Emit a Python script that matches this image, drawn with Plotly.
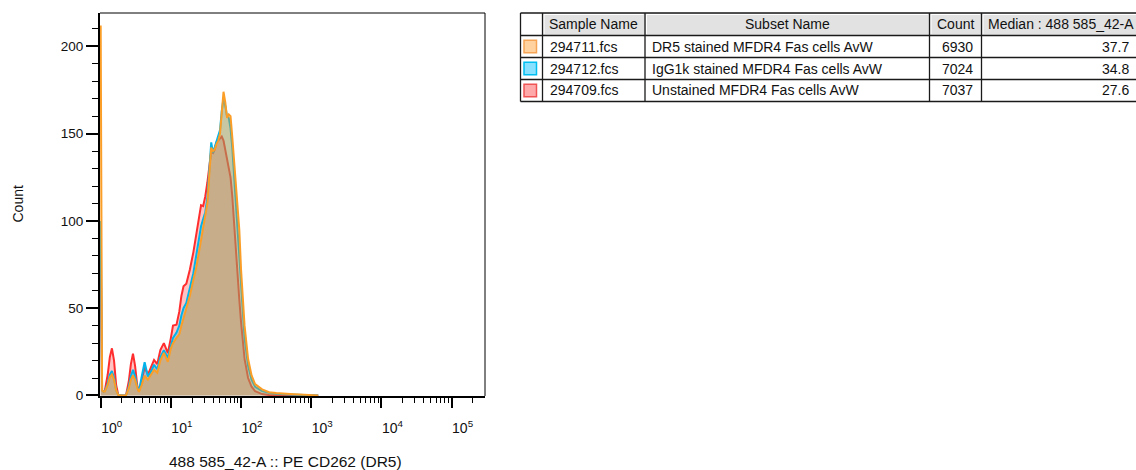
import plotly.graph_objects as go

# ---------------- data ----------------
channel_log10 = [0.0, 0.008, 0.02, 0.04, 0.06, 0.1, 0.13, 0.16, 0.19, 0.22, 0.25, 0.3, 0.36, 0.4, 0.43,
                 0.46, 0.49, 0.52, 0.545, 0.585, 0.626, 0.673, 0.72, 0.76, 0.806, 0.85, 0.9, 0.957, 1.0,
                 1.03, 1.08, 1.12, 1.15, 1.18, 1.22, 1.27, 1.32, 1.36, 1.4, 1.43, 1.46, 1.49, 1.52, 1.55,
                 1.575, 1.6, 1.625, 1.65, 1.675, 1.7, 1.725, 1.75, 1.775, 1.8, 1.825, 1.85, 1.875, 1.9,
                 1.925, 1.95, 1.975, 2.0, 2.05, 2.1, 2.15, 2.2, 2.3, 2.4, 2.5, 2.7, 2.9, 3.0, 3.1]

unstained_counts = [80, 20, 3, 2.3, 3, 12, 22, 27, 20, 6, 0.5, 0, 0, 8, 18,
                    24, 17, 6, 2.3, 9, 16, 12, 17, 20.4, 18, 26, 30, 24.3, 33,
                    40, 40.5, 48, 57, 62.5, 64, 72, 82, 92, 104, 109, 108.5, 114, 122, 133,
                    140, 139, 141, 145, 146, 147, 148.3, 146, 141, 136, 131, 125, 114, 98,
                    84, 68, 55, 42, 21, 10, 5, 2.5, 0.8, 0.3, 0.1, 0, 0, 0, 0]

igg1k_counts = [100, 25, 3, 2.3, 2.5, 7, 12, 14, 10, 3, 0.5, 0, 0, 5, 11,
                14.7, 11, 5, 2.5, 11, 19, 10.9, 14, 17.6, 15, 22, 26, 21.6, 29,
                33, 36, 40, 46, 50, 53, 61, 70, 80, 90, 97, 101, 105, 113, 130,
                145, 139, 142, 146, 148, 152, 163, 170, 166, 160, 159, 153, 142, 127,
                112, 96, 82, 64, 33, 17, 9, 5, 2.5, 1.5, 1, 0.6, 0.3, 0.1, 0]

dr5_counts = [212, 40, 3, 2.3, 2.3, 6, 10.5, 12, 9, 3, 0.3, 0, 0, 4, 9,
              11.5, 9, 4.5, 2, 6, 11.3, 9, 12, 14.7, 13, 20, 24.4, 19.3, 27,
              30, 33, 35, 40, 44, 49, 57, 66, 73, 82, 88, 96, 103, 110, 128,
              142, 140, 141, 144, 146, 150, 165, 174, 168, 159, 161, 160, 148, 134,
              125, 110, 95, 72, 40, 21, 11.5, 6.5, 3.5, 1.9, 1.4, 0.9, 0.5, 0.2, 0]

sample_names = ["294711.fcs", "294712.fcs", "294709.fcs"]
subset_names = ["DR5 stained MFDR4 Fas cells AvW",
                "IgG1k stained MFDR4 Fas cells AvW",
                "Unstained MFDR4 Fas cells AvW"]
event_counts = ["6930", "7024", "7037"]
medians = ["37.7", "34.8", "27.6"]
table_headers = ["Sample Name", "Subset Name", "Count", "Median : 488 585_42-A"]

x_tick_vals = [1, 10, 100, 1000, 10000, 100000]
x_tick_text = ["10<sup>0</sup>", "10<sup>1</sup>", "10<sup>2</sup>",
               "10<sup>3</sup>", "10<sup>4</sup>", "10<sup>5</sup>"]
y_tick_vals = [0, 50, 100, 150, 200]

# ---------------- styles ----------------
FONT = "Liberation Sans, Arial, sans-serif"
series = [  # drawn bottom -> top
    (unstained_counts, "rgb(255,45,45)", "rgba(255,40,40,0.28)"),
    (igg1k_counts, "rgb(0,180,235)", "rgba(0,175,230,0.31)"),
    (dr5_counts, "rgb(250,158,40)", "rgba(240,150,30,0.38)"),
]
swatches = [("rgb(255,210,160)", "rgb(245,165,85)"),
            ("rgb(135,225,255)", "rgb(0,190,240)"),
            ("rgb(255,170,170)", "rgb(240,85,85)")]

intensity = [10 ** v for v in channel_log10]

fig = go.Figure()
for counts, lc, fc in series:
    fig.add_trace(go.Scatter(x=intensity, y=counts, mode="lines", fill="tozeroy",
                             line=dict(color=lc, width=2), fillcolor=fc,
                             hoverinfo="skip", showlegend=False))

L, R, T, B = 100, 485, 13, 396
W, H = R - L, B - T


def px(x):
    return (x - L) / W


def py(y):
    return (B - y) / H


minor_x = []
for d in range(0, 6):
    for m in range(2, 10):
        v = m * 10 ** d
        if v < 3e5:
            minor_x.append(v)

fig.update_xaxes(type="log", range=[-0.01, 5.476], showgrid=False, zeroline=False,
                 showline=True, linecolor="black", linewidth=2,
                 ticks="outside", ticklen=10, tickwidth=2, tickcolor="black",
                 tickmode="array", tickvals=x_tick_vals, ticktext=x_tick_text,
                 ticklabelshift=11, ticklabelstandoff=8,
                 tickfont=dict(family=FONT, size=14, color="#111"),
                 minor=dict(ticks="outside", ticklen=5, tickwidth=1, tickcolor="black",
                            tickmode="array", tickvals=minor_x, showgrid=False))
fig.update_yaxes(range=[-0.3, 219.1], showgrid=False, zeroline=False,
                 showline=True, linecolor="black", linewidth=2,
                 ticks="outside", ticklen=12, tickwidth=2, tickcolor="black",
                 tickmode="array", tickvals=y_tick_vals, ticklabelstandoff=0,
                 tickfont=dict(family=FONT, size=13.5, color="#111"),
                 minor=dict(ticks="outside", ticklen=6, tickwidth=1, tickcolor="black",
                            dtick=10, showgrid=False))

shapes = []
# top/right border of plot
shapes.append(dict(type="line", xref="paper", yref="paper", x0=0, x1=1, y0=1, y1=1,
                   line=dict(color="black", width=1)))
shapes.append(dict(type="line", xref="paper", yref="paper", x0=1, x1=1, y0=0, y1=1,
                   line=dict(color="black", width=1)))

# ---- table ----
col_x = [520.5, 542.5, 645, 929.5, 981.5, 1140]
row_y = [13, 35.5, 57.5, 79.5, 101.5]
shapes.append(dict(type="rect", xref="paper", yref="paper", x0=px(col_x[1]), x1=px(col_x[-1]),
                   y0=py(row_y[1]), y1=py(row_y[0]), fillcolor="#e2e2e2", line=dict(width=0), layer="below"))
# bevel highlight in header cells
for i in range(1, len(col_x) - 1):
    shapes.append(dict(type="line", xref="paper", yref="paper", x0=px(col_x[i] + 1.5), x1=px(col_x[i] + 1.5),
                       y0=py(row_y[1] - 1.5), y1=py(row_y[0] + 1.5), line=dict(color="white", width=1)))
    shapes.append(dict(type="line", xref="paper", yref="paper", x0=px(col_x[i] + 1.5), x1=px(col_x[i + 1] - 1.5),
                       y0=py(row_y[0] + 1.5), y1=py(row_y[0] + 1.5), line=dict(color="white", width=1)))
for yv in row_y:
    shapes.append(dict(type="line", xref="paper", yref="paper", x0=px(col_x[0]), x1=px(col_x[-1]),
                       y0=py(yv), y1=py(yv), line=dict(color="#1a1a1a", width=1.3)))
for xv in col_x[:-1]:
    shapes.append(dict(type="line", xref="paper", yref="paper", x0=px(xv), x1=px(xv),
                       y0=py(row_y[0]), y1=py(row_y[-1]), line=dict(color="#1a1a1a", width=1.3)))

annotations = []


def txt(x, y, s, anchor, size=14):
    annotations.append(dict(xref="paper", yref="paper", x=px(x), y=py(y), text=s, showarrow=False,
                            xanchor=anchor, yanchor="middle",
                            font=dict(family=FONT, size=size, color="#111")))


hdr_y = (row_y[0] + row_y[1]) / 2
txt((col_x[1] + col_x[2]) / 2, hdr_y, table_headers[0], "center")
txt((col_x[2] + col_x[3]) / 2, hdr_y, table_headers[1], "center")
txt((col_x[3] + col_x[4]) / 2, hdr_y, table_headers[2], "center")
txt(col_x[4] + 4, hdr_y, table_headers[3], "left")

for i in range(3):
    cy = (row_y[i + 1] + row_y[i + 2]) / 2
    fc, bc = swatches[i]
    shapes.append(dict(type="rect", xref="paper", yref="paper", x0=px(524), x1=px(536.5),
                       y0=py(cy + 6.3), y1=py(cy - 6.3), fillcolor=fc, line=dict(color=bc, width=1.5)))
    txt(col_x[1] + 5, cy, sample_names[i], "left")
    txt(col_x[2] + 5, cy, subset_names[i], "left")
    txt(col_x[4] - 7, cy, event_counts[i], "right")
    txt(col_x[5] - 9, cy, medians[i], "right")

# axis titles
annotations.append(dict(xref="paper", yref="paper", x=0, y=0.5, xshift=-83, text="Count",
                        textangle=-90, showarrow=False, xanchor="center", yanchor="middle",
                        font=dict(family=FONT, size=14, color="#111")))
annotations.append(dict(xref="paper", yref="paper", x=px(285), y=0, yshift=-65,
                        text="488 585_42-A :: PE CD262 (DR5)", showarrow=False,
                        xanchor="center", yanchor="middle",
                        font=dict(family=FONT, size=15.5, color="#111")))

fig.update_layout(width=1136, height=470, margin=dict(l=L, r=1136 - R, t=T, b=470 - B),
                  paper_bgcolor="white", plot_bgcolor="white", showlegend=False,
                  shapes=shapes, annotations=annotations)

fig.write_html("out.html", config={"displayModeBar": False},
               post_script="document.body.style.margin='0';document.body.style.overflow='hidden';")
